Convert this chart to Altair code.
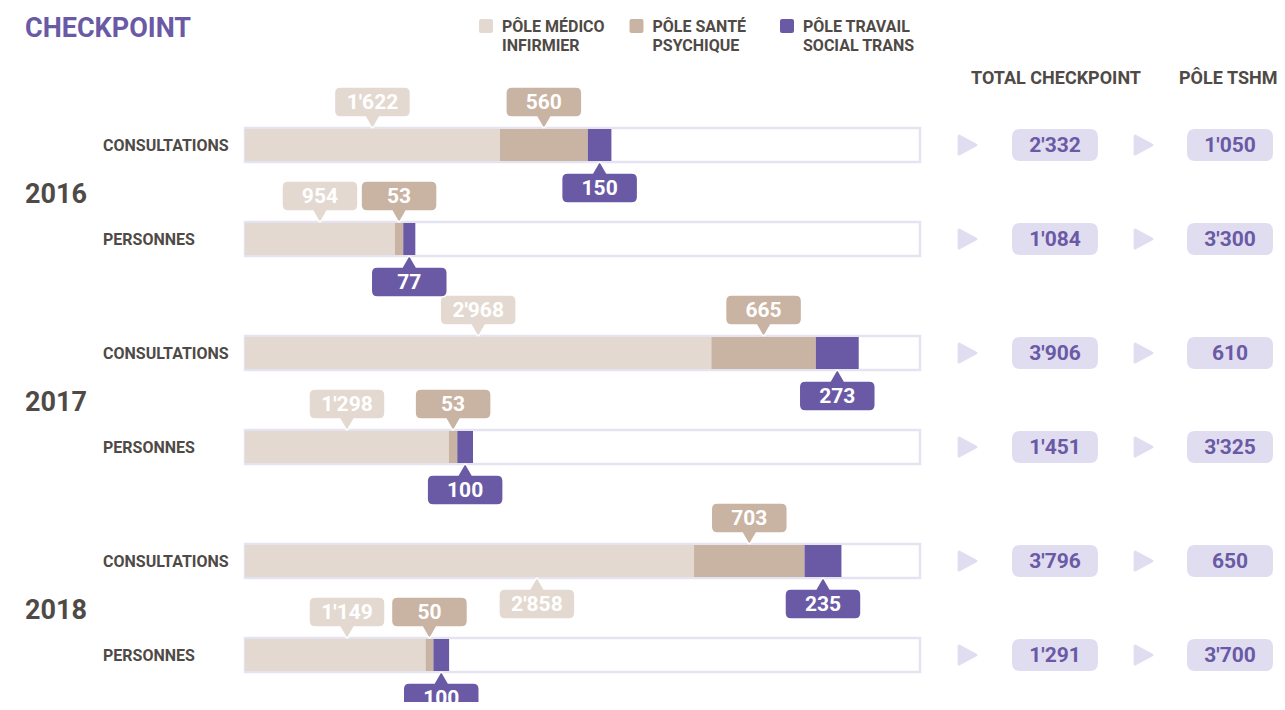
import altair as alt
import pandas as pd

# ---------------- data ----------------
years = ["2016", "2017", "2018"]
metrics = ["CONSULTATIONS", "PERSONNES"]
poles = ["PÔLE MÉDICO INFIRMIER", "PÔLE SANTÉ PSYCHIQUE", "PÔLE TRAVAIL SOCIAL TRANS"]
legend_lines = [["PÔLE MÉDICO", "INFIRMIER"], ["PÔLE SANTÉ", "PSYCHIQUE"], ["PÔLE TRAVAIL", "SOCIAL TRANS"]]
# rows in order: 2016 consultations, 2016 personnes, 2017 consultations, ...
medico = [1622, 954, 2968, 1298, 2858, 1149]
sante = [560, 53, 665, 53, 703, 50]
travail = [150, 77, 273, 100, 235, 100]
total_checkpoint = [2332, 1084, 3906, 1451, 3796, 1291]
pole_tshm = [1050, 3300, 610, 3325, 650, 3700]
side_medico = ["up", "up", "up", "up", "down", "up"]
side_sante = ["up", "up", "up", "up", "up", "up"]
side_travail = ["down", "down", "down", "down", "down", "down"]
# where along its segment each callout points (fraction of the segment)
anchor_medico = [0.5, 0.5, 0.5, 0.5, 0.65, 0.565]
anchor_sante = [0.5, 0.5, 0.5, 0.5, 0.5, 0.5]
anchor_travail = [0.5, 0.5, 0.5, 0.5, 0.5, 0.5]
header_labels = ["TOTAL CHECKPOINT", "PÔLE TSHM"]
title_text = "CHECKPOINT"
X_MAX = 4296

# ---------------- style ----------------
FONT = "Roboto"
TXT = "#4f4a46"
PURPLE = "#6a5aa6"
LAV = "#e1ddf0"
FRAME = "#e6e3f1"
COLORS = ["#e3d9d0", "#c9b3a2", "#6a5aa6"]
YEAR_GAP, ROW_GAP = 208, 94


def fmt(v):
    return f"{v:,}".replace(",", "'")


rows = []
for r in range(6):
    rows.append(dict(year=years[r // 2], metric=metrics[r % 2],
                     pos=(r // 2) * YEAR_GAP + (r % 2) * ROW_GAP,
                     total=fmt(total_checkpoint[r]), tshm=fmt(pole_tshm[r])))
rows_df = pd.DataFrame(rows)
rows_df["top"] = rows_df["pos"] - 17
rows_df["bot"] = rows_df["pos"] + 17
rows_df["x0"] = 0
rows_df["x1"] = X_MAX

seg = []
for r in range(6):
    start = 0
    for pole, vals, sides, anc in zip(poles, [medico, sante, travail],
                                      [side_medico, side_sante, side_travail],
                                      [anchor_medico, anchor_sante, anchor_travail]):
        v = vals[r]
        seg.append(dict(pole=pole, start=start, end=start + v, center=start + v * anc[r],
                        label=fmt(v), side=sides[r], pos=rows[r]["pos"],
                        top=rows[r]["pos"] - 16, bot=rows[r]["pos"] + 16))
        start += v
seg_df = pd.DataFrame(seg)

years_df = pd.DataFrame(dict(year=years, pos=[i * YEAR_GAP + ROW_GAP / 2 for i in range(3)]))

xs = alt.Scale(domain=[0, X_MAX], range=[237, 912], zero=False, nice=False)
ys = alt.Scale(domain=[0, 510], range=[137, 647], zero=False, nice=False)
cs = alt.Scale(domain=poles, range=COLORS)

X = lambda f: alt.X(f"{f}:Q", scale=xs, axis=None)
Y = lambda f: alt.Y(f"{f}:Q", scale=ys, axis=None)
C = alt.Color("pole:N", scale=cs, legend=None)

UP = ("M-0.842,-0.395 L0.842,-0.395 Q1,-0.395 1,-0.237 L1,0.237 Q1,0.395 0.842,0.395 "
      "L0.184,0.395 L0.03,0.66 Q0,0.69 -0.03,0.66 L-0.184,0.395 L-0.842,0.395 "
      "Q-1,0.395 -1,0.237 L-1,-0.237 Q-1,-0.395 -0.842,-0.395 Z")
DOWN = ("M-0.842,0.395 L0.842,0.395 Q1,0.395 1,0.237 L1,-0.237 Q1,-0.395 0.842,-0.395 "
        "L0.184,-0.395 L0.03,-0.66 Q0,-0.69 -0.03,-0.66 L-0.184,-0.395 L-0.842,-0.395 "
        "Q-1,-0.395 -1,-0.237 L-1,0.237 Q-1,0.395 -0.842,0.395 Z")
PILL = ("M-0.814,-0.372 L0.814,-0.372 Q1,-0.372 1,-0.186 L1,0.186 Q1,0.372 0.814,0.372 "
        "L-0.814,0.372 Q-1,0.372 -1,0.186 L-1,-0.186 Q-1,-0.372 -0.814,-0.372 Z")
TRI = "M-0.75,-0.85 L0.85,0 L-0.75,0.85 Z"
SQ = "M-0.7,-1 L0.7,-1 Q1,-1 1,-0.7 L1,0.7 Q1,1 0.7,1 L-0.7,1 Q-1,1 -1,0.7 L-1,-0.7 Q-1,-1 -0.7,-1 Z"

layers = []

# frames
layers.append(alt.Chart(rows_df).mark_rect(fill="white", stroke=FRAME, strokeWidth=2.5).encode(
    x=X("x0"), x2="x1", y=Y("top"), y2="bot"))
# segments
layers.append(alt.Chart(seg_df).mark_rect().encode(x=X("start"), x2="end", y=Y("top"), y2="bot", color=C))

# callouts
for side, shape, off in [("up", UP, -43), ("down", DOWN, 43)]:
    base = alt.Chart(seg_df).transform_filter(alt.datum.side == side)
    layers.append(base.mark_point(shape=shape, size=5776, filled=True, opacity=1,
                                  stroke="white", strokeWidth=1.5, yOffset=off).encode(
        x=X("center"), y=Y("pos"), color=C))
    layers.append(base.mark_text(font=FONT, fontSize=21, fontWeight="bold", color="white",
                                 dy=off + 1).encode(x=X("center"), y=Y("pos"), text="label:N"))

# row labels
layers.append(alt.Chart(rows_df).mark_text(font=FONT, fontSize=16, fontWeight="bold", color=TXT,
                                           align="left", dy=1).encode(
    x=alt.value(95), y=Y("pos"), text="metric:N"))
# years
layers.append(alt.Chart(years_df).mark_text(font=FONT, fontSize=27, fontWeight="bold", color=TXT,
                                            align="left", dy=3).encode(
    x=alt.value(17), y=Y("pos"), text="year:N"))

# right side: triangles and pills
for tx, px, field in [(959, 1047, "total"), (1135, 1222, "tshm")]:
    layers.append(alt.Chart(rows_df).mark_point(shape=TRI, size=441, filled=True, opacity=1, color=LAV,
                                                stroke=LAV, strokeWidth=3, strokeJoin="round").encode(
        x=alt.value(tx), y=Y("pos")))
    layers.append(alt.Chart(rows_df).mark_point(shape=PILL, size=7396, filled=True, opacity=1,
                                                color=LAV).encode(x=alt.value(px), y=Y("pos")))
    layers.append(alt.Chart(rows_df).mark_text(font=FONT, fontSize=21, fontWeight="bold",
                                               color=PURPLE, dy=1).encode(
        x=alt.value(px), y=Y("pos"), text=f"{field}:N"))

# headers
for lab, hx, al in [(header_labels[0], 1048, "center"), (header_labels[1], 1171, "left")]:
    layers.append(alt.Chart(pd.DataFrame({"t": [lab]})).mark_text(
        font=FONT, fontSize=18, fontWeight="bold", color=TXT, align=al).encode(
        x=alt.value(hx), y=alt.value(71), text="t:N"))

# title
layers.append(alt.Chart(pd.DataFrame({"t": [title_text]})).mark_text(
    font=FONT, fontSize=27, fontWeight="bold", color=PURPLE, align="left").encode(
    x=alt.value(17), y=alt.value(21), text="t:N"))

# legend
for i, (pole, lines) in enumerate(zip(poles, legend_lines)):
    sx = 478 + i * 150.5
    layers.append(alt.Chart(pd.DataFrame({"pole": [pole]})).mark_point(
        shape=SQ, size=196, filled=True, opacity=1).encode(
        x=alt.value(sx), y=alt.value(18), color=C))
    for j, line in enumerate(lines):
        layers.append(alt.Chart(pd.DataFrame({"t": [line]})).mark_text(
            font=FONT, fontSize=16, fontWeight="bold", color=TXT, align="left").encode(
            x=alt.value(sx + 16), y=alt.value(19 + j * 19), text="t:N"))

chart = alt.layer(*layers).properties(
    width=1269, height=694, autosize=alt.AutoSizeParams(type="none"), padding=0
).configure_view(strokeWidth=0)

chart.save("out.html", embed_options={"renderer": "svg", "actions": False})
